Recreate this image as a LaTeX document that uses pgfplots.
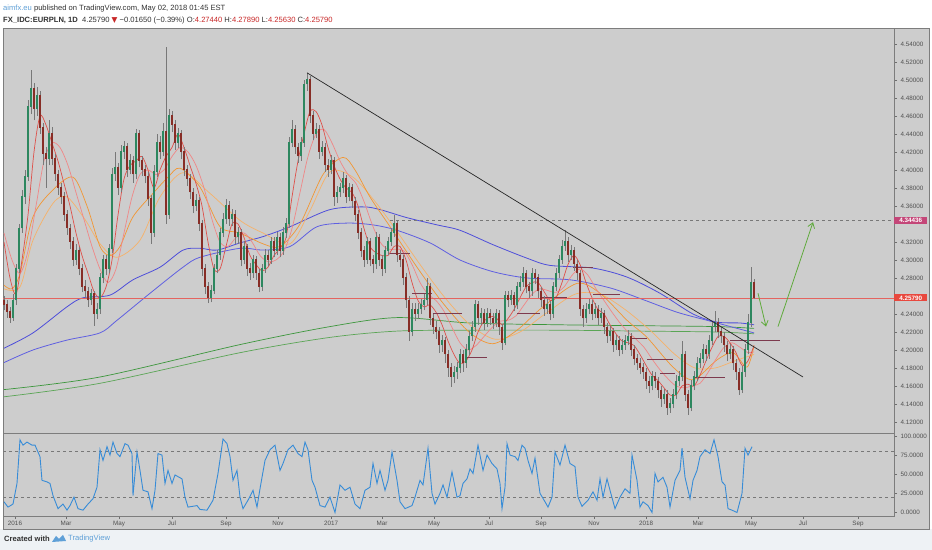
\documentclass[border=0pt]{standalone}
\usepackage{fontspec}
\setmainfont{Liberation Sans}
\newfontfamily\symfont{DejaVu Sans}
\usepackage{pgfplots}
\usepackage{pgfplotstable}
\pgfplotsset{compat=1.18}
\usetikzlibrary{arrows.meta}

\definecolor{chartbg}{RGB}{205,205,205}
\definecolor{footbg}{RGB}{238,242,245}
\definecolor{framegrey}{RGB}{125,125,125}
\definecolor{tickgrey}{RGB}{110,110,110}
\definecolor{labgrey}{RGB}{80,80,80}
\definecolor{candleup}{RGB}{45,135,95}
\definecolor{candledn}{RGB}{135,45,38}
\definecolor{wickgrey}{RGB}{120,120,120}
\definecolor{mared}{RGB}{222,80,74}
\definecolor{mapink}{RGB}{240,135,135}
\definecolor{maorange}{RGB}{242,150,50}
\definecolor{maorangel}{RGB}{246,178,105}
\definecolor{mablue}{RGB}{78,78,218}
\definecolor{mablueb}{RGB}{95,95,225}
\definecolor{magreen}{RGB}{60,150,60}
\definecolor{magreenb}{RGB}{90,165,85}
\definecolor{lvl}{RGB}{125,58,78}
\definecolor{lastred}{RGB}{228,100,95}
\definecolor{boxred}{RGB}{232,72,62}
\definecolor{boxpink}{RGB}{196,70,120}
\definecolor{arrowgreen}{RGB}{95,170,60}
\definecolor{stochblue}{RGB}{55,140,215}
\definecolor{dashgrey}{RGB}{120,120,120}
\definecolor{hdrgrey}{RGB}{50,50,50}
\definecolor{tvblue}{RGB}{95,160,215}
\definecolor{valred}{RGB}{200,40,40}

\pgfplotstableread{
x o h l c u
4 4.255 4.260 4.244 4.250 0
7 4.250 4.255 4.236 4.242 0
10 4.242 4.248 4.230 4.236 0
13 4.236 4.262 4.232 4.255 1
16 4.255 4.296 4.250 4.290 1
19 4.290 4.340 4.286 4.335 1
22 4.335 4.378 4.330 4.370 1
25 4.370 4.400 4.362 4.392 1
28 4.392 4.478 4.388 4.470 1
31 4.470 4.511 4.462 4.490 1
34 4.490 4.497 4.455 4.468 0
37 4.468 4.492 4.460 4.482 1
40 4.482 4.488 4.440 4.447 0
43 4.447 4.452 4.405 4.418 0
46 4.418 4.425 4.380 4.412 0
49 4.412 4.455 4.405 4.440 1
52 4.440 4.448 4.405 4.412 0
55 4.412 4.418 4.388 4.395 0
58 4.395 4.400 4.372 4.380 0
61 4.380 4.386 4.362 4.370 0
64 4.370 4.375 4.343 4.350 0
67 4.350 4.356 4.328 4.335 0
70 4.335 4.340 4.312 4.320 0
73 4.320 4.325 4.293 4.300 0
76 4.300 4.318 4.294 4.310 1
79 4.310 4.314 4.283 4.290 0
82 4.290 4.295 4.264 4.270 0
85 4.270 4.278 4.258 4.265 0
88 4.265 4.270 4.248 4.255 0
91 4.255 4.268 4.250 4.262 1
94 4.262 4.266 4.227 4.240 0
97 4.240 4.252 4.234 4.245 1
100 4.245 4.286 4.240 4.280 1
103 4.280 4.306 4.274 4.300 1
106 4.300 4.305 4.283 4.290 0
109 4.290 4.318 4.285 4.312 1
112 4.312 4.402 4.308 4.395 1
115 4.395 4.420 4.388 4.402 1
118 4.402 4.408 4.372 4.380 0
121 4.380 4.428 4.375 4.420 1
124 4.420 4.432 4.412 4.426 1
127 4.426 4.430 4.392 4.400 0
130 4.400 4.418 4.395 4.410 1
133 4.410 4.415 4.386 4.395 0
136 4.395 4.446 4.390 4.440 1
139 4.440 4.444 4.403 4.410 0
142 4.410 4.415 4.393 4.400 0
145 4.400 4.405 4.385 4.393 0
148 4.393 4.398 4.360 4.368 0
151 4.368 4.372 4.318 4.330 0
154 4.330 4.405 4.326 4.398 1
157 4.398 4.440 4.392 4.430 1
160 4.430 4.438 4.412 4.420 0
163 4.420 4.452 4.415 4.442 1
166 4.442 4.537 4.340 4.350 0
169 4.350 4.468 4.346 4.460 1
172 4.460 4.466 4.442 4.450 0
175 4.450 4.455 4.422 4.430 0
178 4.430 4.447 4.424 4.440 1
181 4.440 4.444 4.412 4.420 0
184 4.420 4.425 4.393 4.400 0
187 4.400 4.406 4.382 4.390 0
190 4.390 4.395 4.368 4.375 0
193 4.375 4.380 4.352 4.360 0
196 4.360 4.373 4.354 4.366 1
199 4.366 4.370 4.332 4.340 0
202 4.340 4.344 4.282 4.290 0
205 4.290 4.295 4.262 4.270 0
208 4.270 4.276 4.252 4.258 0
211 4.258 4.272 4.253 4.266 1
214 4.266 4.296 4.262 4.290 1
217 4.290 4.311 4.285 4.305 1
220 4.305 4.336 4.300 4.330 1
223 4.330 4.352 4.325 4.345 1
226 4.345 4.368 4.340 4.360 1
229 4.360 4.365 4.338 4.345 0
232 4.345 4.357 4.338 4.350 1
235 4.350 4.355 4.318 4.325 0
238 4.325 4.337 4.318 4.330 1
241 4.330 4.334 4.293 4.300 0
244 4.300 4.321 4.295 4.315 1
247 4.315 4.318 4.282 4.290 0
250 4.290 4.297 4.278 4.285 0
253 4.285 4.306 4.280 4.300 1
256 4.300 4.304 4.278 4.285 0
259 4.285 4.290 4.264 4.270 0
262 4.270 4.296 4.266 4.290 1
265 4.290 4.312 4.286 4.305 1
268 4.305 4.311 4.293 4.300 0
271 4.300 4.326 4.296 4.320 1
274 4.320 4.325 4.303 4.310 0
277 4.310 4.331 4.305 4.325 1
280 4.325 4.330 4.303 4.310 0
283 4.310 4.337 4.306 4.330 1
286 4.330 4.347 4.324 4.340 1
289 4.340 4.437 4.336 4.430 1
292 4.430 4.455 4.425 4.445 1
295 4.445 4.450 4.418 4.425 0
298 4.425 4.430 4.408 4.415 0
301 4.415 4.437 4.410 4.430 1
304 4.430 4.500 4.426 4.495 1
307 4.495 4.508 4.488 4.500 1
310 4.500 4.504 4.452 4.460 0
313 4.460 4.465 4.433 4.440 0
316 4.440 4.452 4.435 4.445 1
319 4.445 4.450 4.412 4.420 0
322 4.420 4.432 4.415 4.425 1
325 4.425 4.430 4.398 4.405 0
328 4.405 4.412 4.392 4.400 0
331 4.400 4.417 4.395 4.410 1
334 4.410 4.414 4.360 4.370 0
337 4.370 4.382 4.363 4.375 1
340 4.375 4.386 4.370 4.380 1
343 4.380 4.398 4.374 4.390 1
346 4.390 4.394 4.363 4.370 0
349 4.370 4.386 4.365 4.380 1
352 4.380 4.384 4.358 4.365 0
355 4.365 4.370 4.343 4.350 0
358 4.350 4.355 4.323 4.330 0
361 4.330 4.335 4.303 4.310 0
364 4.310 4.316 4.292 4.300 0
367 4.300 4.326 4.296 4.320 1
370 4.320 4.324 4.293 4.300 0
373 4.300 4.306 4.285 4.295 0
376 4.295 4.331 4.290 4.325 1
379 4.325 4.329 4.293 4.300 0
382 4.300 4.305 4.282 4.290 0
385 4.290 4.316 4.285 4.310 1
388 4.310 4.326 4.305 4.320 1
391 4.320 4.336 4.315 4.330 1
394 4.330 4.350 4.325 4.340 1
397 4.340 4.344 4.298 4.305 0
400 4.305 4.311 4.292 4.300 0
403 4.300 4.305 4.272 4.280 0
406 4.280 4.285 4.247 4.255 0
409 4.255 4.260 4.210 4.220 0
412 4.220 4.252 4.215 4.245 1
415 4.245 4.252 4.232 4.240 0
418 4.240 4.252 4.234 4.245 1
421 4.245 4.257 4.240 4.250 1
424 4.250 4.262 4.244 4.255 1
427 4.255 4.280 4.250 4.270 1
430 4.270 4.274 4.228 4.235 0
433 4.235 4.240 4.218 4.225 0
436 4.225 4.232 4.212 4.220 0
439 4.220 4.225 4.197 4.205 0
442 4.205 4.217 4.198 4.210 1
445 4.210 4.214 4.186 4.195 0
448 4.195 4.200 4.170 4.180 0
451 4.180 4.186 4.159 4.170 0
454 4.170 4.182 4.163 4.175 1
457 4.175 4.187 4.168 4.180 1
460 4.180 4.201 4.174 4.195 1
463 4.195 4.200 4.176 4.185 0
466 4.185 4.207 4.180 4.200 1
469 4.200 4.221 4.194 4.215 1
472 4.215 4.232 4.210 4.225 1
475 4.225 4.256 4.220 4.250 1
478 4.250 4.254 4.228 4.235 0
481 4.235 4.247 4.228 4.240 1
484 4.240 4.245 4.222 4.230 0
487 4.230 4.247 4.225 4.240 1
490 4.240 4.246 4.228 4.235 0
493 4.235 4.241 4.223 4.230 0
496 4.230 4.246 4.225 4.240 1
499 4.240 4.244 4.217 4.225 0
502 4.225 4.229 4.200 4.208 0
505 4.208 4.266 4.205 4.260 1
508 4.260 4.266 4.248 4.255 0
511 4.255 4.267 4.250 4.260 1
514 4.260 4.264 4.243 4.250 0
517 4.250 4.276 4.246 4.270 1
520 4.270 4.282 4.265 4.275 1
523 4.275 4.292 4.270 4.285 1
526 4.285 4.289 4.263 4.270 0
529 4.270 4.276 4.258 4.265 0
532 4.265 4.291 4.260 4.285 1
535 4.285 4.290 4.273 4.280 0
538 4.280 4.284 4.258 4.265 0
541 4.265 4.270 4.248 4.255 0
544 4.255 4.260 4.238 4.245 0
547 4.245 4.257 4.240 4.250 1
550 4.250 4.254 4.233 4.240 0
553 4.240 4.276 4.236 4.270 1
556 4.270 4.291 4.265 4.285 1
559 4.285 4.306 4.280 4.300 1
562 4.300 4.322 4.296 4.315 1
565 4.315 4.333 4.310 4.320 1
568 4.320 4.325 4.298 4.305 0
571 4.305 4.317 4.300 4.310 1
574 4.310 4.314 4.288 4.295 0
577 4.295 4.300 4.278 4.285 0
580 4.285 4.289 4.238 4.245 0
583 4.245 4.250 4.226 4.235 0
586 4.235 4.252 4.230 4.245 1
589 4.245 4.257 4.240 4.250 1
592 4.250 4.255 4.233 4.240 0
595 4.240 4.252 4.235 4.245 1
598 4.245 4.250 4.228 4.235 0
601 4.235 4.247 4.230 4.240 1
604 4.240 4.244 4.218 4.225 0
607 4.225 4.230 4.208 4.215 0
610 4.215 4.227 4.210 4.220 1
613 4.220 4.224 4.198 4.205 0
616 4.205 4.217 4.200 4.210 1
619 4.210 4.215 4.193 4.200 0
622 4.200 4.212 4.195 4.205 1
625 4.205 4.217 4.200 4.210 1
628 4.210 4.222 4.205 4.215 1
631 4.215 4.219 4.193 4.200 0
634 4.200 4.205 4.183 4.190 0
637 4.190 4.196 4.178 4.185 0
640 4.185 4.191 4.173 4.180 0
643 4.180 4.186 4.168 4.175 0
646 4.175 4.180 4.157 4.165 0
649 4.165 4.171 4.152 4.160 0
652 4.160 4.177 4.155 4.170 1
655 4.170 4.176 4.158 4.165 0
658 4.165 4.170 4.147 4.155 0
661 4.155 4.160 4.137 4.145 0
664 4.145 4.157 4.140 4.150 1
667 4.150 4.155 4.128 4.135 0
670 4.135 4.147 4.130 4.140 1
673 4.140 4.157 4.135 4.150 1
676 4.150 4.172 4.145 4.165 1
679 4.165 4.177 4.160 4.170 1
682 4.170 4.210 4.165 4.195 1
685 4.195 4.199 4.143 4.150 0
688 4.150 4.155 4.128 4.135 0
691 4.135 4.167 4.132 4.160 1
694 4.160 4.177 4.155 4.170 1
697 4.170 4.192 4.165 4.185 1
700 4.185 4.197 4.180 4.190 1
703 4.190 4.207 4.185 4.200 1
706 4.200 4.206 4.188 4.195 0
709 4.195 4.217 4.190 4.210 1
712 4.210 4.232 4.205 4.225 1
715 4.225 4.243 4.220 4.230 1
718 4.230 4.235 4.213 4.220 0
721 4.220 4.226 4.208 4.215 0
724 4.215 4.220 4.198 4.205 0
727 4.205 4.210 4.188 4.195 0
730 4.195 4.207 4.190 4.200 1
733 4.200 4.204 4.178 4.185 0
736 4.185 4.190 4.167 4.175 0
739 4.175 4.180 4.150 4.155 0
742 4.155 4.182 4.152 4.175 1
745 4.175 4.207 4.170 4.200 1
748 4.200 4.240 4.195 4.230 1
751 4.230 4.292 4.226 4.2744 1
754 4.2744 4.2789 4.2563 4.2579 0
}\candles

\begin{document}
\begin{tikzpicture}[x=1bp,y=1bp]
% backgrounds
\fill[white] (0,0) rectangle (932,550);
\fill[footbg] (0,0) rectangle (932,21);
\filldraw[fill=chartbg, draw=framegrey, line width=0.5bp] (3,21) rectangle (929,522);

% header
\node[anchor=west, inner sep=0pt, font=\fontsize{7.6bp}{9bp}\selectfont, text=hdrgrey] at (3,541)
  {\textcolor{tvblue}{aimfx.eu} published on TradingView.com, May 02, 2018 01:45 EST};
\node[anchor=west, inner sep=0pt, font=\fontsize{7.6bp}{9bp}\selectfont, text=hdrgrey] at (3,529)
  {\textbf{FX\_IDC:EURPLN, 1D}\ \ 4.25790 {\symfont\textcolor{valred}{▼}} −0.01650 (−0.39\%) O:\textcolor{valred}{4.27440} H:\textcolor{valred}{4.27890} L:\textcolor{valred}{4.25630} C:\textcolor{valred}{4.25790}};

% footer
\node[anchor=west, inner sep=0pt, font=\fontsize{7.6bp}{9bp}\selectfont\bfseries, text=hdrgrey] at (4,11) {Created with};
\fill[tvblue] (52,8) -- (56,14) -- (59,11) -- (63,15) -- (66,9) -- cycle;
\node[anchor=west, inner sep=0pt, font=\fontsize{7.6bp}{9bp}\selectfont, text=tvblue] at (68,11) {TradingView};

\begin{axis}[
  at={(3bp,117bp)}, anchor=south west,
  width=891bp, height=405bp, scale only axis,
  xmin=3, xmax=894, ymin=4.10778, ymax=4.55778,
  xtick=\empty,
  ytick={4.12,4.14,4.16,4.18,4.20,4.22,4.24,4.28,4.30,4.32,4.36,4.38,4.40,4.42,4.44,4.46,4.48,4.50,4.52,4.54},
  ytick pos=right, yticklabel pos=right,
  tick align=outside, major tick length=3bp,
  tick style={draw=tickgrey, line width=0.4bp},
  /pgf/number format/assume math mode=true,
  yticklabel style={font=\fontsize{6.3bp}{7bp}\selectfont, text=labgrey, /pgf/number format/fixed, /pgf/number format/fixed zerofill, /pgf/number format/precision=5},
  axis line style={draw=framegrey, line width=0.6bp},
  clip mode=individual,
]
% slow MAs
\addplot[magreen, line width=0.7bp, smooth] coordinates {(4,4.156) (100,4.170) (240,4.206) (330,4.226) (397,4.236) (470,4.230) (560,4.228) (640,4.227) (717,4.226) (754,4.224)};
\addplot[magreenb, line width=0.7bp, smooth] coordinates {(4,4.148) (100,4.163) (240,4.197) (330,4.214) (397,4.221) (470,4.222) (560,4.222) (640,4.221) (717,4.220) (754,4.218)};
\addplot[mablue, line width=0.8bp, smooth] coordinates {(4,4.202) (33,4.219) (67,4.248) (83,4.258) (110,4.261) (133,4.278) (160,4.292) (183,4.311) (200,4.313) (217,4.311) (240,4.319) (263,4.326) (290,4.337) (330,4.356) (363,4.359) (380,4.356) (407,4.347) (437,4.339) (460,4.333) (493,4.317) (527,4.302) (550,4.294) (593,4.291) (627,4.281) (660,4.263) (693,4.240) (717,4.231) (740,4.230) (754,4.228)};
\addplot[mablueb, line width=0.8bp, smooth] coordinates {(4,4.186) (33,4.200) (67,4.211) (100,4.219) (117,4.233) (150,4.263) (183,4.292) (200,4.303) (240,4.313) (263,4.311) (290,4.315) (317,4.337) (347,4.341) (373,4.339) (397,4.333) (430,4.319) (460,4.300) (493,4.287) (527,4.280) (570,4.278) (610,4.269) (643,4.256) (677,4.242) (707,4.233) (717,4.230) (754,4.219)};
\addplot[maorangel, line width=0.7bp, smooth] coordinates {(4,4.268) (20,4.270) (33,4.322) (53,4.363) (67,4.370) (85,4.345) (100,4.318) (117,4.303) (140,4.322) (160,4.370) (183,4.397) (210,4.374) (240,4.344) (263,4.330) (290,4.318) (310,4.355) (330,4.398) (353,4.392) (375,4.365) (395,4.335) (420,4.295) (445,4.258) (470,4.228) (495,4.212) (520,4.220) (545,4.240) (575,4.262) (600,4.262) (625,4.245) (650,4.222) (675,4.195) (695,4.180) (715,4.180) (735,4.188) (754,4.195)};
\addplot[maorange, line width=0.7bp, smooth] coordinates {(4,4.272) (12,4.268) (20,4.285) (33,4.348) (53,4.378) (73,4.392) (87,4.360) (100,4.315) (110,4.305) (120,4.315) (133,4.348) (153,4.374) (168,4.392) (180,4.402) (200,4.381) (220,4.337) (240,4.330) (263,4.318) (280,4.315) (300,4.340) (323,4.395) (343,4.414) (355,4.400) (370,4.370) (390,4.337) (417,4.292) (443,4.252) (470,4.219) (493,4.207) (517,4.222) (543,4.248) (577,4.274) (600,4.263) (627,4.233) (647,4.214) (673,4.181) (693,4.167) (717,4.189) (733,4.197) (747,4.181) (754,4.205)};
\addplot[mapink, line width=0.7bp, smooth] coordinates {(4,4.330) (12,4.300) (20,4.285) (28,4.310) (36,4.360) (44,4.410) (52,4.430) (60,4.425) (68,4.405) (76,4.375) (84,4.345) (92,4.315) (100,4.290) (108,4.275) (116,4.290) (124,4.330) (132,4.370) (140,4.395) (148,4.400) (156,4.395) (164,4.400) (172,4.415) (180,4.425) (188,4.420) (196,4.405) (204,4.380) (212,4.345) (220,4.320) (228,4.315) (236,4.325) (244,4.330) (252,4.320) (260,4.305) (268,4.298) (276,4.300) (284,4.310) (292,4.335) (300,4.375) (308,4.415) (316,4.440) (324,4.445) (332,4.430) (340,4.410) (348,4.395) (356,4.385) (364,4.365) (372,4.340) (380,4.320) (388,4.312) (396,4.312) (404,4.310) (412,4.295) (420,4.275) (428,4.262) (436,4.255) (444,4.243) (452,4.225) (460,4.208) (468,4.200) (476,4.205) (484,4.215) (492,4.225) (500,4.232) (508,4.233) (516,4.238) (524,4.250) (532,4.262) (540,4.268) (548,4.266) (556,4.264) (564,4.270) (572,4.283) (580,4.290) (588,4.283) (596,4.268) (604,4.255) (612,4.242) (620,4.230) (628,4.220) (636,4.212) (644,4.203) (652,4.190) (660,4.178) (668,4.168) (676,4.160) (684,4.158) (692,4.160) (700,4.163) (708,4.175) (716,4.190) (724,4.203) (732,4.208) (740,4.203) (748,4.197) (754,4.198)};
\addplot[mared, line width=0.7bp, smooth] coordinates {(4,4.320) (10,4.280) (16,4.262) (22,4.300) (28,4.350) (34,4.420) (40,4.460) (46,4.450) (52,4.430) (58,4.410) (64,4.385) (70,4.360) (76,4.330) (82,4.305) (88,4.285) (94,4.265) (100,4.258) (106,4.270) (112,4.300) (118,4.350) (124,4.390) (130,4.405) (136,4.410) (142,4.415) (148,4.400) (154,4.380) (160,4.400) (166,4.415) (172,4.425) (178,4.440) (184,4.425) (190,4.405) (196,4.385) (202,4.360) (208,4.320) (214,4.290) (220,4.290) (226,4.315) (232,4.340) (238,4.340) (244,4.325) (250,4.305) (256,4.295) (262,4.288) (268,4.292) (274,4.305) (280,4.313) (286,4.325) (292,4.370) (298,4.410) (304,4.440) (310,4.465) (316,4.465) (322,4.450) (328,4.425) (334,4.405) (340,4.390) (346,4.380) (352,4.375) (358,4.360) (364,4.335) (370,4.315) (376,4.308) (382,4.305) (388,4.305) (394,4.315) (400,4.315) (406,4.300) (412,4.275) (418,4.255) (424,4.248) (430,4.250) (436,4.242) (442,4.228) (448,4.210) (454,4.195) (460,4.185) (466,4.188) (472,4.200) (478,4.220) (484,4.232) (490,4.237) (496,4.236) (502,4.228) (508,4.235) (514,4.245) (520,4.258) (526,4.270) (532,4.275) (538,4.275) (544,4.265) (550,4.255) (556,4.258) (562,4.275) (568,4.295) (574,4.305) (580,4.295) (586,4.275) (592,4.258) (598,4.245) (604,4.240) (610,4.228) (616,4.218) (622,4.210) (628,4.208) (634,4.205) (640,4.195) (646,4.183) (652,4.172) (658,4.166) (664,4.158) (670,4.150) (676,4.150) (682,4.160) (688,4.162) (694,4.160) (700,4.172) (706,4.188) (712,4.203) (718,4.215) (724,4.215) (730,4.208) (736,4.197) (742,4.183) (748,4.188) (754,4.205)};

% horizontal level segments
\addplot[lvl, line width=0.7bp, forget plot] coordinates {(390,4.307) (410,4.307)};
\addplot[lvl, line width=0.7bp, forget plot] coordinates {(412,4.263) (432,4.263)};
\addplot[lvl, line width=0.7bp, forget plot] coordinates {(433,4.241) (462,4.241)};
\addplot[lvl, line width=0.7bp, forget plot] coordinates {(467,4.192) (487,4.192)};
\addplot[lvl, line width=0.7bp, forget plot] coordinates {(517,4.241) (540,4.241)};
\addplot[lvl, line width=0.7bp, forget plot] coordinates {(540,4.259) (567,4.259)};
\addplot[lvl, line width=0.7bp, forget plot] coordinates {(573,4.292) (593,4.292)};
\addplot[lvl, line width=0.7bp, forget plot] coordinates {(593,4.262) (620,4.262)};
\addplot[lvl, line width=0.7bp, forget plot] coordinates {(630,4.213) (647,4.213)};
\addplot[lvl, line width=0.7bp, forget plot] coordinates {(647,4.190) (673,4.190)};
\addplot[lvl, line width=0.7bp, forget plot] coordinates {(660,4.174) (675,4.174)};
\addplot[lvl, line width=0.7bp, forget plot] coordinates {(693,4.170) (725,4.170)};
\addplot[lvl, line width=0.7bp, forget plot] coordinates {(730,4.211) (780,4.211)};

% reference lines
\addplot[dashgrey, line width=0.5bp, dash pattern=on 3bp off 3bp, forget plot] coordinates {(390,4.34436) (894,4.34436)};
\addplot[lastred, line width=0.5bp, forget plot] coordinates {(3,4.2579) (894,4.2579)};

% candles: wicks
\addplot[draw=none, mark=none, forget plot,
  error bars/.cd, y dir=plus, y explicit, error mark=none,
  error bar style={draw=wickgrey, line width=0.5bp}]
  table[x=x, y=l, y error plus expr={\thisrow{h}-\thisrow{l}}] {\candles};
% candles: up bodies (zero length where the candle is down)
\addplot[draw=none, mark=none, forget plot,
  error bars/.cd, y dir=plus, y explicit, error mark=none,
  error bar style={draw=candleup, line width=2.6bp, line cap=butt}]
  table[x=x, y=o, y error plus expr={(\thisrow{c}-\thisrow{o}+0.0008)*\thisrow{u}}] {\candles};
% candles: down bodies (zero length where the candle is up)
\addplot[draw=none, mark=none, forget plot,
  error bars/.cd, y dir=plus, y explicit, error mark=none,
  error bar style={draw=candledn, line width=2.6bp, line cap=butt}]
  table[x=x, y=c, y error plus expr={(\thisrow{o}-\thisrow{c}+0.0008)*(1-\thisrow{u})}] {\candles};

% trend line
\addplot[black!85, line width=0.7bp, forget plot] coordinates {(307,4.508) (803,4.170)};
% arrows
\addplot[arrowgreen, line width=0.8bp, -{Straight Barb[length=5bp,width=7bp]}, forget plot] coordinates {(758,4.263) (766,4.226)};
\addplot[arrowgreen, line width=0.8bp, -{Straight Barb[length=5bp,width=7bp]}, forget plot] coordinates {(778,4.226) (813,4.342)};

% price label boxes
\node[anchor=west, fill=boxpink, text=white, inner sep=1.3bp, minimum width=33bp, font=\fontsize{6.3bp}{7bp}\selectfont\bfseries] at (axis cs:894,4.34436) {4.34436};
\node[anchor=west, fill=boxred, text=white, inner sep=1.3bp, minimum width=33bp, font=\fontsize{6.3bp}{7bp}\selectfont\bfseries] at (axis cs:894,4.2579) {4.25790};
\end{axis}

\begin{axis}[
  at={(3bp,34bp)}, anchor=south west,
  width=891bp, height=83bp, scale only axis,
  xmin=3, xmax=894, ymin=-4.6, ymax=103.9,
  xtick={15,66,119,172,226,278,331,382,434,489,541,594,646,698,751,803,858},
  xticklabels={2016,Mar,May,Jul,Sep,Nov,2017,Mar,May,Jul,Sep,Nov,2018,Mar,May,Jul,Sep},
  ytick={0,25,50,75,100},
  xtick pos=bottom, ytick pos=right, yticklabel pos=right,
  tick align=outside, major tick length=3bp,
  tick style={draw=tickgrey, line width=0.4bp},
  /pgf/number format/assume math mode=true,
  yticklabel style={font=\fontsize{6.3bp}{7bp}\selectfont, text=labgrey, /pgf/number format/fixed, /pgf/number format/fixed zerofill, /pgf/number format/precision=4},
  xticklabel style={font=\fontsize{6.3bp}{7bp}\selectfont, text=labgrey, inner sep=1.5bp},
  axis line style={draw=framegrey, line width=0.6bp},
]
\addplot[dashgrey, line width=0.5bp, dash pattern=on 3bp off 3bp, forget plot] coordinates {(3,80) (894,80)};
\addplot[dashgrey, line width=0.5bp, dash pattern=on 3bp off 3bp, forget plot] coordinates {(3,20) (894,20)};
\addplot[stochblue, line width=0.9bp] coordinates {
(4,14) (8,7) (13,11) (17,38) (20,95) (23,88) (27,92) (32,88) (35,88) (40,73) (42,42) (47,40) (50,38) (53,22) (58,5) (63,11) (67,3) (70,9) (74,20) (78,5) (83,3) (88,11) (93,18) (97,33) (100,82) (103,68) (107,86) (110,75) (113,92) (117,77) (120,73) (125,90) (128,88) (132,77) (133,22) (137,79) (140,55) (143,29) (148,27) (152,5) (155,29) (158,77) (162,75) (165,38) (168,55) (172,38) (175,49) (182,44) (185,20) (188,7) (197,9) (200,4) (207,3) (213,16) (218,51) (223,96) (227,90) (230,73) (233,42) (237,55) (240,20) (243,5) (248,16) (253,29) (257,7) (260,31) (265,68) (270,82) (275,88) (280,55) (283,64) (288,82) (293,88) (298,77) (302,73) (305,92) (308,82) (312,42) (315,33) (320,9) (325,7) (330,20) (335,0) (340,36) (345,29) (350,33) (355,11) (360,5) (365,29) (370,33) (373,64) (377,38) (380,55) (385,29) (388,42) (392,79) (397,42) (400,14) (405,5) (412,9) (415,20) (420,42) (423,36) (428,84) (432,25) (435,11) (440,25) (443,36) (447,20) (452,53) (457,20) (460,22) (463,38) (467,44) (470,57) (473,51) (478,88) (483,55) (487,75) (492,64) (497,57) (500,38) (502,5) (505,33) (507,90) (510,75) (515,73) (518,68) (522,88) (525,84) (528,68) (532,51) (535,71) (540,25) (545,14) (548,7) (552,20) (555,79) (560,62) (565,88) (570,64) (575,60) (578,20) (582,8) (588,16) (593,27) (597,16) (600,44) (603,20) (607,44) (610,29) (615,5) (620,20) (625,31) (630,25) (632,75) (637,42) (640,7) (643,14) (648,9) (652,0) (655,51) (658,40) (663,46) (667,33) (670,7) (675,42) (680,55) (682,84) (685,46) (690,18) (693,42) (697,55) (700,73) (705,82) (710,77) (714,95) (718,73) (722,40) (725,36) (728,5) (732,3) (737,0) (742,25) (745,84) (748,75) (752,86)};
\end{axis}
\end{tikzpicture}
\end{document}
